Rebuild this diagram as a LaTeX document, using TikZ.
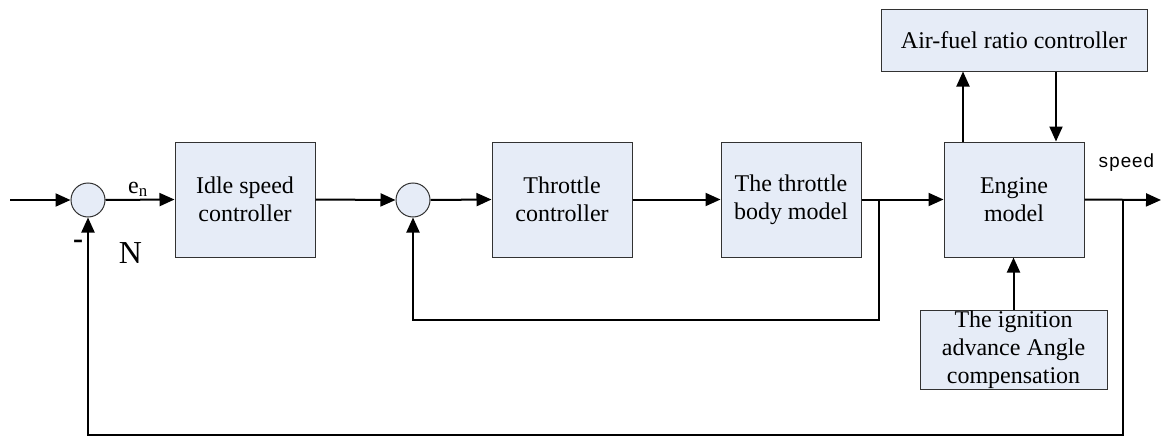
\documentclass[tikz,border=0pt]{standalone}
\usepackage{fontspec}
\setmainfont{Liberation Serif}
\newfontfamily\speedfont{Liberation Mono}
\usetikzlibrary{arrows.meta,positioning}
\definecolor{boxfill}{RGB}{230,236,247}
\definecolor{boxline}{RGB}{50,50,50}
\begin{document}
\begin{tikzpicture}[x=1pt,y=-1pt,
	>={Triangle[length=15pt,width=13pt]},
	block/.style={draw=boxline, line width=1pt, fill=boxfill, align=center, inner sep=0pt,
		minimum width=140pt, minimum height=115pt, font=\fontsize{24}{28}\selectfont},
	sumnode/.style={circle, draw=boxline, line width=1pt, fill=boxfill, minimum size=34pt, inner sep=0pt},
	link/.style={line width=2pt, ->}]
	%\draw[help lines] (0,0) grid[step=50] (1161,436);
	\useasboundingbox (0,0) rectangle (1161,436);
	\node[sumnode] (sum1) at (88,200) {};
	\node[sumnode] (sum2) at (413,200) {};
	\node[block] (idle) at (245,199.5) {Idle speed\\controller};
	\node[block] (thr) at (562,199.5) {Throttle\\controller};
	\node[block] (body) at (791,199.5) {The throttle\\body model};
	\node[block] (eng) at (1014,199.5) {Engine\\model};
	\node[block, minimum width=266pt, minimum height=61pt] (afr) at (1014,40.5) {Air-fuel ratio controller};
	\node[block, minimum width=187pt, minimum height=79pt] (ign) at (1013.5,349.5) {The ignition\\advance Angle\\compensation};
	\coordinate (in) at (10,200);
	\coordinate (out) at (1161,200);
	\coordinate (b1) at (879,200);
	\coordinate (b2) at (1123,200);
	\coordinate (loop1) at (879,320);
	\coordinate (loop2) at (1123,435);
	\draw[link] (in) -- (sum1.west);
	\draw[link] (sum1.east) -- (idle.west);
	\draw[link] (idle.east) -- (sum2.west);
	\draw[link] (sum2.east) -- (thr.west);
	\draw[link] (thr.east) -- (body.west);
	\draw[link] (body.east) -- (eng.west);
	\draw[link] (eng.east) -- (out);
	\draw[link] (b1) -- (loop1) -| (sum2.south);
	\draw[link] (b2) -- (loop2) -| (sum1.south);
	\draw[link] ([xshift=-51pt]eng.north) -- ([xshift=-51pt]eng.north |- afr.south);
	\draw[link] ([xshift=42pt]afr.south) -- ([xshift=42pt]afr.south |- eng.north);
	\draw[link] (ign.north) -- (ign.north |- eng.south);
	\node[anchor=base west, inner sep=0pt, font=\fontsize{24}{28}\selectfont] (en) at (128,193) {e\textsubscript{n}};
	\node[inner sep=0pt, font=\fontsize{32}{36}\selectfont] (nlab) at (130.5,253.5) {N};
	\node[inner sep=0pt, font=\fontsize{30}{34}\selectfont\bfseries] (minus) at (78,244) {-};
	\node[inner sep=0pt, font=\fontsize{19}{22}\selectfont\speedfont] (speed) at (1126,163) {speed};
\end{tikzpicture}
\end{document}
